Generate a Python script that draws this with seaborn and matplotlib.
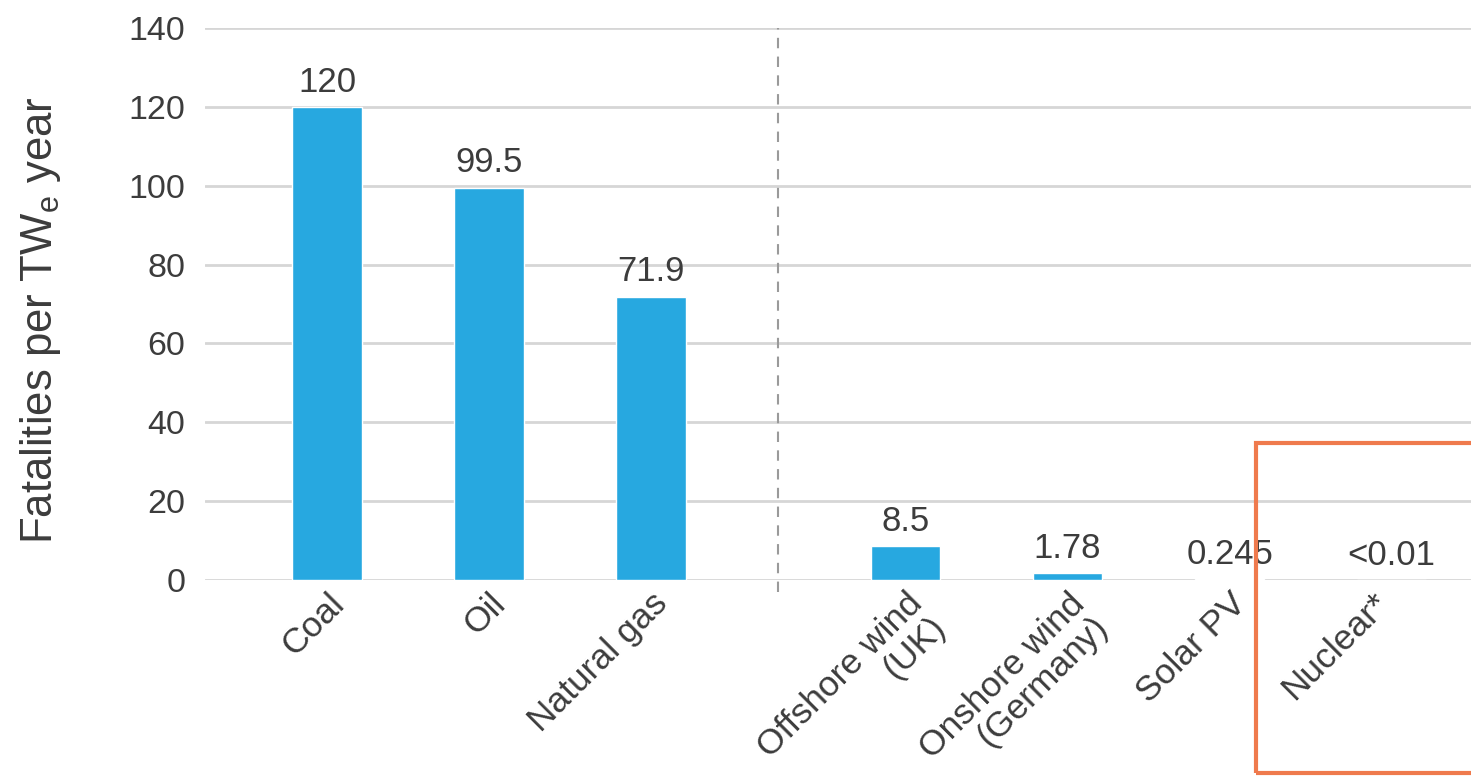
import numpy as np
import pandas as pd
import matplotlib
matplotlib.use("Agg")
import matplotlib.pyplot as plt
import seaborn as sns
from matplotlib.patches import Rectangle
import matplotlib.transforms as mtransforms

categories = ["Coal", "Oil", "Natural gas", "Offshore wind\n(UK)",
              "Onshore wind\n(Germany)", "Solar PV", "Nuclear*"]
fatalities = [120, 99.5, 71.9, 8.5, 1.78, 0.245, 0.01]
value_labels = ["120", "99.5", "71.9", "8.5", "1.78", "0.245", "<0.01"]
y_ticks = [0, 20, 40, 60, 80, 100, 120, 140]

sns.set_theme(style="white")
plt.rcParams['font.family'] = ['Liberation Sans', 'DejaVu Sans']
plt.rcParams['mathtext.fontset'] = 'custom'
plt.rcParams['mathtext.rm'] = 'Liberation Sans'

TXT = "#3c3c3c"
W, H = 1471, 778
fig = plt.figure(figsize=(W / 100, H / 100), dpi=100)
ax = fig.add_axes([205 / W, 1 - 580 / H, 1 - 205 / W, (580 - 28) / H])

group_gap = 0.57
idx = np.arange(len(categories))
xpos = idx + np.where(idx >= 3, group_gap, 0.0)

df = pd.DataFrame({"x": xpos, "y": fatalities})
sns.barplot(data=df, x="x", y="y", native_scale=True, width=0.43,
            color="#27A8E0", saturation=1, errorbar=None, ax=ax)

ax.bar_label(ax.containers[0], labels=value_labels, padding=6,
             fontsize=25, color=TXT)

ax.set_xlim(-0.753, 7.06)
ax.set_ylim(0, 140)
ax.set_yticks(y_ticks)
ax.set_yticklabels([str(t) for t in y_ticks], fontsize=24.5, color=TXT)
ax.yaxis.grid(True, color="#d6d6d6", lw=2)
ax.xaxis.grid(False)
ax.set_axisbelow(True)
for s in ax.spines.values():
    s.set_visible(False)
ax.tick_params(axis="y", length=0, pad=14)
ax.tick_params(axis="x", length=0, pad=5)

ax.set_xticks(xpos)
ax.set_xticklabels(categories, rotation=45, ha="right", va="top",
                   rotation_mode="anchor", fontsize=25.5, color=TXT,
                   linespacing=1.0)
ax.set_xlabel("")
# the Nuclear* label sits a little to the left in the original
nuc = ax.get_xticklabels()[-1]
nuc.set_transform(nuc.get_transform() +
                  mtransforms.ScaledTranslation(-0.2, 0.0, fig.dpi_scale_trans))

ax.set_ylabel("Fatalities per TW$_\\mathregular{e}$ year", fontsize=31.5, color=TXT)
ax.yaxis.set_label_coords(-0.112, 0.47)

sep = (xpos[2] + xpos[3]) / 2
ax.plot([sep, sep], [-3, 140], ls=(0, (5, 4)), color="#9a9a9a", lw=1.5,
        clip_on=False, zorder=1)

fig.patches.append(Rectangle((1256 / W, 1 - 773 / H), (1490 - 1256) / W,
                             (773 - 443) / H, transform=fig.transFigure,
                             fill=False, ec="#EF7A4D", lw=3))

fig.savefig("out.png", dpi=100)
